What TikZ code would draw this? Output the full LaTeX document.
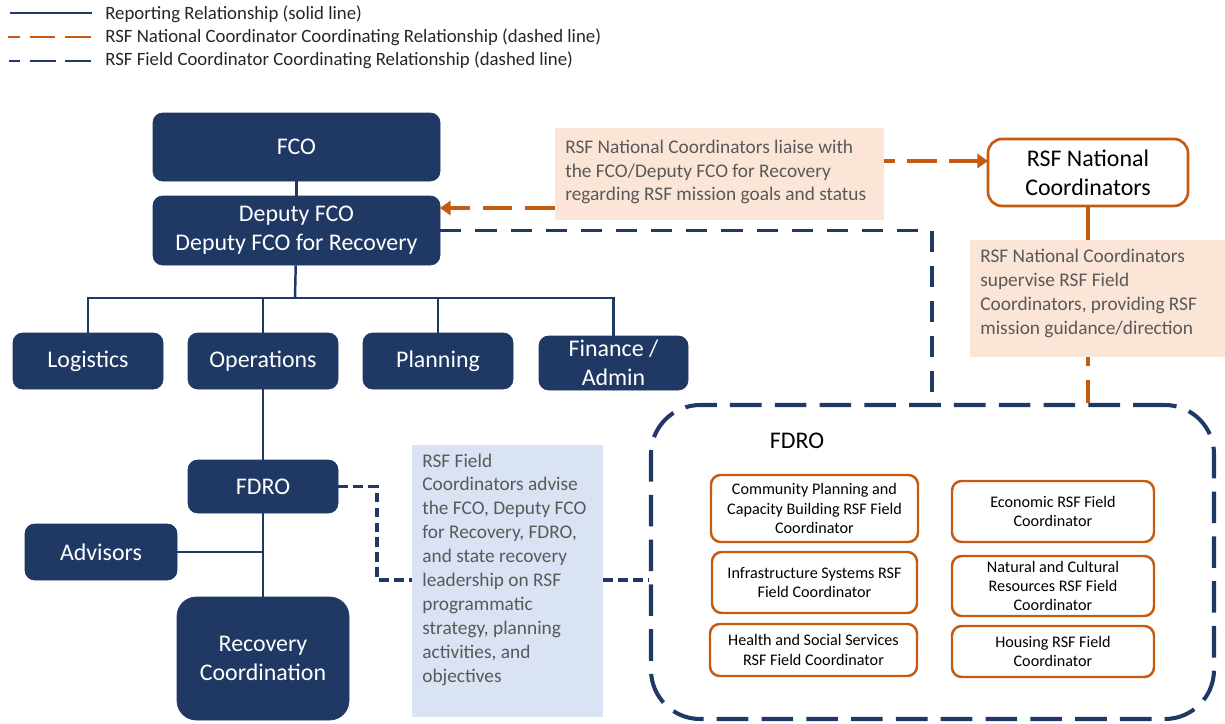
\documentclass[tikz,border=0pt]{standalone}
\usepackage{fontspec}
\setmainfont{Carlito}
\usetikzlibrary{arrows.meta}

\definecolor{navy}{HTML}{203864}
\definecolor{rsforange}{HTML}{C55A11}
\definecolor{peach}{HTML}{FBE5D6}
\definecolor{paleblue}{HTML}{DAE3F3}
\definecolor{notegray}{HTML}{595959}

\newcommand{\mainfs}{\fontsize{13.6}{16.4}\selectfont}
\newcommand{\notefs}{\fontsize{11}{13.6}\selectfont}
\newcommand{\innerfs}{\fontsize{9.2}{11}\selectfont}
\newcommand{\legendfs}{\fontsize{10.7}{13}\selectfont}

% [style]{name}{x1}{y1}{x2}{y2}{text}: a box given by its pixel corners
\newcommand{\pxbox}[7][]{%
  \node[#1, minimum width={(#5-#3)*0.02cm}, minimum height={(#6-#4)*0.02cm}]
    (#2) at ({(#3+#5)/2},{(#4+#6)/2}) {#7};}

\begin{document}
\begin{tikzpicture}[x=0.02cm, y=-0.02cm,
  orgbox/.style={draw=navy, fill=navy, rounded corners=5.5pt, text=white,
    font=\mainfs, align=center, inner sep=0pt},
  rsfbox/.style={draw=rsforange, line width=1.4pt, fill=white, rounded corners=5.5pt,
    align=center, font=\innerfs, inner sep=0pt},
  peachnote/.style={fill=peach, inner sep=0pt},
  bluenote/.style={fill=paleblue, inner sep=0pt},
  notetext/.style={anchor=west, align=left, font=\notefs, text=notegray, inner sep=0pt},
  legendtext/.style={anchor=west, font=\legendfs, text=black!85, inner sep=0pt},
  regionbox/.style={draw=navy, line width=2.3pt, dash pattern=on 18pt off 7.5pt,
    rounded corners=28pt, inner sep=0pt},
  rel/.style={draw=navy, line width=1.4pt},
  natdash/.style={draw=rsforange, line width=2.2pt, dash pattern=on 17pt off 7pt},
  fielddash/.style={draw=navy, line width=2pt, dash pattern=on 12pt off 8pt},
  fieldshort/.style={draw=navy, line width=1.8pt, dash pattern=on 5.5pt off 3pt},
  tip/.style={-{Triangle[length=6pt,width=8pt]}}
]
\useasboundingbox (0,0) rectangle (1225,724);

% legend
\coordinate (lg1a) at (10,13);  \coordinate (lg1b) at (92,13);
\coordinate (lg2a) at (8,37);   \coordinate (lg2b) at (92,37);
\coordinate (lg3a) at (9,61);   \coordinate (lg3b) at (92,61);
\draw[rel, line width=1.7pt] (lg1a) -- (lg1b);
\draw[natdash, line width=1.7pt, dash pattern=on 14.5pt off 5.5pt, dash phase=7.5pt] (lg2a) -- (lg2b);
\draw[fielddash, line width=1.7pt, dash pattern=on 14.5pt off 5.5pt, dash phase=8pt] (lg3a) -- (lg3b);
\node[legendtext] (lgt1) at (105,14) {Reporting Relationship (solid line)};
\node[legendtext] (lgt2) at (105,37) {RSF National Coordinator Coordinating Relationship (dashed line)};
\node[legendtext] (lgt3) at (105,60) {RSF Field Coordinator Coordinating Relationship (dashed line)};

% organisation chart
\pxbox[orgbox]{fco}{153}{113}{440}{181}{FCO}
\pxbox[orgbox]{deputy}{153}{196}{440}{265}{Deputy FCO\\Deputy FCO for Recovery}
\pxbox[orgbox]{logistics}{13}{333}{163}{389}{Logistics}
\pxbox[orgbox]{operations}{188}{333}{338}{389}{Operations}
\pxbox[orgbox]{planning}{363}{333}{513}{389}{Planning}
\pxbox[orgbox]{finance}{539}{336}{688}{390}{Finance /\\Admin}
\pxbox[orgbox]{fdro}{188}{460}{338}{513}{FDRO}
\pxbox[orgbox]{advisors}{25}{524}{177}{580}{Advisors}
\pxbox[orgbox, rounded corners=11pt]{recovery}{177}{597}{349}{720}{Recovery\\Coordination}

% note boxes
\pxbox[peachnote]{liaise}{555}{128}{884}{220}{}
\pxbox[peachnote]{supervise}{970}{240}{1225}{357}{}
\pxbox[bluenote]{advise}{412}{445}{603}{717}{}
\node[notetext] (liaisetext) at (565,172)
  {RSF National Coordinators liaise with\\the FCO/Deputy FCO for Recovery\\regarding RSF mission goals and status};
\node[notetext] (supervisetext) at (980,293.5)
  {RSF National Coordinators\\supervise RSF Field\\Coordinators, providing RSF\\mission guidance/direction};
\node[notetext] (advisetext) at (422,569.5)
  {RSF Field\\Coordinators advise\\the FCO, Deputy FCO\\for Recovery, FDRO,\\and state recovery\\leadership on RSF\\programmatic\\strategy, planning\\activities, and\\objectives};

% RSF national coordinators
\pxbox[rsfbox, font=\mainfs, line width=1.5pt, rounded corners=8pt]{natcoord}{988}{139}{1188}{206}{RSF National\\Coordinators}

% FDRO field coordinator group
\pxbox[regionbox]{region}{651}{405}{1214}{719}{}
\node[font=\mainfs, inner sep=0pt] (regionlabel) at (797,441) {FDRO};
\pxbox[rsfbox]{cpcb}{711}{475}{918}{542}{Community Planning and\\Capacity Building RSF Field\\Coordinator}
\pxbox[rsfbox]{infra}{712}{552}{917}{613}{Infrastructure Systems RSF\\Field Coordinator}
\pxbox[rsfbox]{health}{710}{624}{917}{676}{Health and Social Services\\RSF Field Coordinator}
\pxbox[rsfbox]{econ}{952}{481}{1154}{542}{Economic RSF Field\\Coordinator}
\pxbox[rsfbox]{natcult}{952}{556}{1154}{616}{Natural and Cultural\\Resources RSF Field\\Coordinator}
\pxbox[rsfbox]{housing}{952}{626}{1154}{677}{Housing RSF Field\\Coordinator}

% reporting relationships
\coordinate (bus) at (295,298);
\draw[rel] (fco) -- (deputy);
\draw[rel] (deputy) -- (bus);
\draw[rel] (logistics.north) |- (bus) -| (finance.north);
\draw[rel] (operations.north) -- (operations.north |- bus);
\draw[rel] (planning.north) -- (planning.north |- bus);
\draw[rel] (operations) -- (fdro);
\draw[rel] (fdro) -- (recovery);
\draw[rel] (advisors.east) -- (advisors.east -| fdro.south);

% national coordinator relationships
\coordinate (ncin) at (988,161);
\coordinate (depin) at (440,208);
\draw[natdash, tip] (liaise.west |- depin) -- (depin);
\draw[natdash, tip, dash phase=11pt] (liaise.east |- ncin) -- (ncin);
\draw[rsforange, line width=1.8pt] (natcoord.south) -- (natcoord.south |- supervise.north);
\draw[natdash, line width=1.8pt, dash pattern=on 5pt off 8pt on 40pt off 8pt] (natcoord.south |- supervise.south) -- (natcoord.south |- region.north);

% field coordinator relationships
\coordinate (rtop) at (932,405);
\coordinate (fbend) at (377,580);
\draw[fielddash] (deputy.east) -| (rtop);
\draw[fieldshort] (fdro.east) -| (fbend) -- (advise.west |- fbend);
\draw[fieldshort] (advise.east |- fbend) -- (region.west |- fbend);
\end{tikzpicture}
\end{document}
